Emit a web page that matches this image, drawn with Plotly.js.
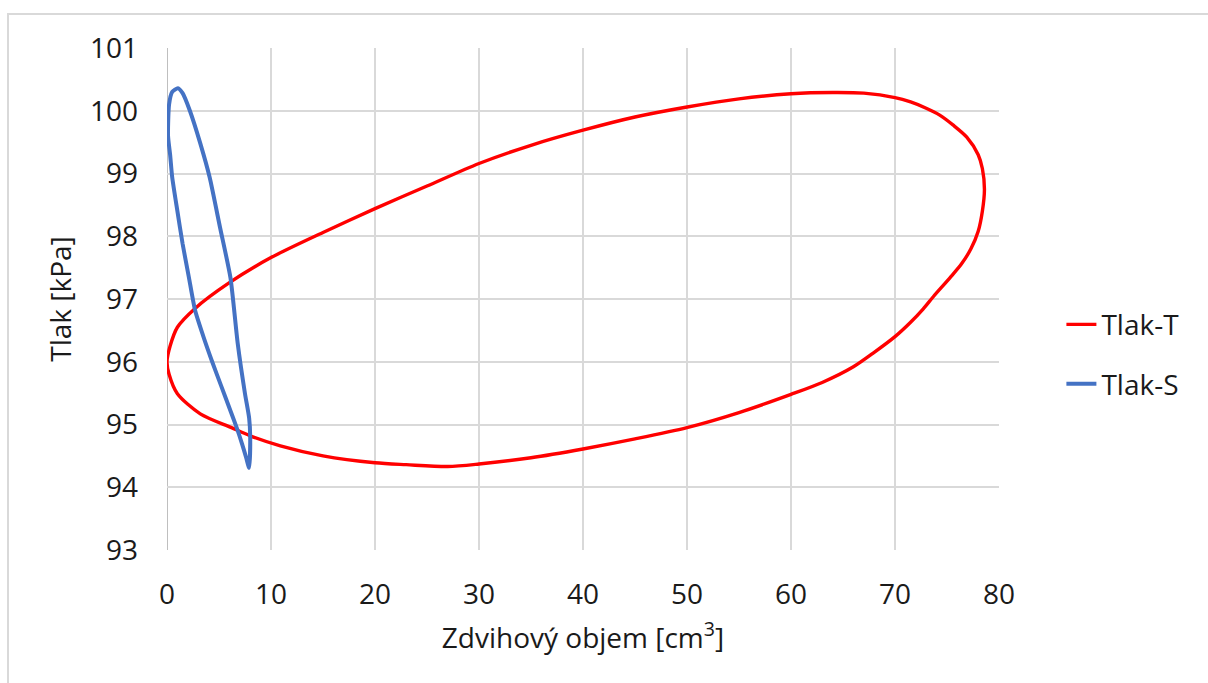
<!DOCTYPE html>
<html>
<head>
<meta charset="utf-8">
<script src="https://cdn.plot.ly/plotly-3.0.1.min.js"></script>
<style>
  html, body { margin: 0; padding: 0; background: #ffffff; overflow: hidden; }
  #frame { position: absolute; left: 7px; top: 13px; width: 1400px; height: 900px;
           border-left: 2px solid #d9d9d9; border-top: 2px solid #d9d9d9; }
  #chart { position: absolute; left: 0; top: 0; width: 1208px; height: 683px; }
</style>
</head>
<body>
<div id="frame"></div>
<div id="chart"></div>
<script>
// Tlak-T loop (volume cm3, pressure kPa)
const tlakT_V = [0, 0.3, 1, 2.7, 6, 10, 15, 20, 25, 30, 35, 40, 45, 50, 55, 60, 64, 67, 70, 71.5, 73, 74.3, 75.6, 76.9, 78, 78.4, 78.6, 78.4, 78.0, 77.3, 76.4, 75.3, 73.7, 72.7, 71.5, 70, 68, 66, 63, 60, 55, 50, 45, 40, 35, 30, 27, 23, 20, 15, 10.9, 8, 6.2, 3.2, 1, 0.2, 0];
const tlakT_P = [96.0, 96.25, 96.55, 96.85, 97.26, 97.66, 98.06, 98.44, 98.8, 99.16, 99.45, 99.69, 99.9, 100.06, 100.19, 100.27, 100.29, 100.28, 100.21, 100.14, 100.04, 99.93, 99.77, 99.58, 99.3, 99.08, 98.75, 98.4, 98.08, 97.8, 97.56, 97.34, 97.04, 96.84, 96.63, 96.4, 96.15, 95.92, 95.67, 95.48, 95.19, 94.95, 94.77, 94.61, 94.47, 94.37, 94.33, 94.36, 94.39, 94.5, 94.66, 94.82, 94.95, 95.17, 95.49, 95.8, 96.0];

// Tlak-S loop
const tlakS_V = [1.05, 0.5, 0.2, 0.1, 0.3, 0.5, 1.0, 1.5, 2.1, 2.7, 3.5, 4.3, 5.2, 6.1, 6.7, 7.2, 7.6, 7.9, 8.0, 7.9, 7.5, 6.8, 6.1, 5.1, 4.1, 3.2, 2.2, 1.5, 1.05];
const tlakS_P = [100.36, 100.3, 100.1, 99.6, 99.3, 98.94, 98.4, 97.88, 97.35, 96.82, 96.4, 96.02, 95.62, 95.22, 94.95, 94.7, 94.48, 94.31, 94.8, 95.1, 95.49, 96.29, 97.34, 98.14, 98.94, 99.48, 100.0, 100.28, 100.36];

const xTicks = [0, 10, 20, 30, 40, 50, 60, 70, 80];
const yTicks = [93, 94, 95, 96, 97, 98, 99, 100, 101];

const FONT = "Open Sans, Liberation Sans, sans-serif";
const TXT = "#1a1a1a";
const FS = 28;

const traces = [
  { x: tlakT_V, y: tlakT_P, name: "Tlak-T", mode: "lines", legendgroup: "a",
    line: { color: "#ff0000", width: 3.4, shape: "spline", smoothing: 0.8 } },
  { x: tlakS_V, y: tlakS_P, name: "Tlak-S", mode: "lines", legendgroup: "b",
    line: { color: "#4472c4", width: 4, shape: "spline", smoothing: 0.6 } }
];

const layout = {
  width: 1208, height: 683,
  paper_bgcolor: "rgba(0,0,0,0)", plot_bgcolor: "rgba(0,0,0,0)",
  margin: { l: 167, r: 209, t: 48, b: 133 },
  font: { family: FONT, size: FS, color: TXT },
  showlegend: true,
  legend: { x: 1.075, y: 0.39, xanchor: "left", yanchor: "middle",
            traceorder: "grouped", tracegroupgap: 20,
            font: { family: FONT, size: FS, color: TXT }, bgcolor: "rgba(0,0,0,0)" },
  xaxis: {
    range: [0, 80], tickvals: xTicks, ticktext: xTicks.map(String),
    showgrid: true, gridcolor: "#d9d9d9", gridwidth: 2,
    zeroline: false, showline: false, ticks: "", ticklabelstandoff: 25,
    tickfont: { family: FONT, size: FS, color: TXT },
    title: { text: "Zdvihový objem [cm<sup>3</sup>]", font: { family: FONT, size: FS, color: TXT }, standoff: 17 },
    automargin: false
  },
  yaxis: {
    range: [93, 101], tickvals: yTicks, ticktext: yTicks.map(String),
    showgrid: true, gridcolor: "#d9d9d9", gridwidth: 2,
    zeroline: false, showline: false, ticks: "", ticklabelstandoff: 28,
    tickfont: { family: FONT, size: FS, color: TXT },
    title: { text: "Tlak [kPa]", font: { family: FONT, size: FS, color: TXT }, standoff: 10 },
    automargin: false
  },
  shapes: [
    { type: "line", xref: "x", yref: "paper", x0: 0, x1: 0, y0: 0, y1: 1,
      line: { color: "#bfbfbf", width: 2 }, layer: "below" }
  ]
};

Plotly.newPlot("chart", traces, layout, { displayModeBar: false, staticPlot: true });
</script>
</body>
</html>
